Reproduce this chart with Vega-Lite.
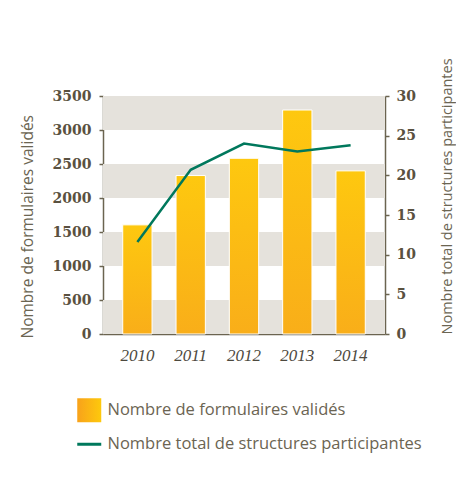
{
  "$schema": "https://vega.github.io/schema/vega-lite/v6.json",
  "width": 282,
  "height": 238,
  "autosize": "none",
  "padding": {"left": 103, "top": 96, "right": 71, "bottom": 153},
  "background": "#ffffff",
  "config": {
    "view": {"stroke": null},
    "axis": {"grid": false}
  },
  "datasets": {
    "bands": [
      {"lo": 0, "hi": 500},
      {"lo": 1000, "hi": 1500},
      {"lo": 2000, "hi": 2500},
      {"lo": 3000, "hi": 3500}
    ],
    "main": [
      {"annee": "2010", "formulaires": 1605, "structures": 11.6},
      {"annee": "2011", "formulaires": 2330, "structures": 20.7},
      {"annee": "2012", "formulaires": 2584, "structures": 24.0},
      {"annee": "2013", "formulaires": 3294, "structures": 23.0},
      {"annee": "2014", "formulaires": 2399, "structures": 23.8}
    ]
  },
  "layer": [
    {
      "layer": [
        {
          "data": {"name": "bands"},
          "mark": {"type": "rect", "color": "#e5e2dc"},
          "encoding": {
            "y": {
              "field": "lo", "type": "quantitative",
              "scale": {"domain": [0, 3500], "nice": false},
              "axis": {
                "orient": "left",
                "title": "Nombre de formulaires validés",
                "values": [0, 500, 1000, 1500, 2000, 2500, 3000, 3500],
                "format": "d",
                "labelFont": "DejaVu Serif", "labelFontWeight": "bold", "labelFontSize": 14,
                "labelColor": "#5a5140",
                "domainColor": "#6b6450", "domainWidth": 1.5,
                "tickColor": "#6b6450", "tickSize": 4, "tickWidth": 1.5,
                "labelPadding": 8,
                "titleFont": "Open Sans", "titleFontSize": 15.5, "titleFontWeight": "normal",
                "titleColor": "#6b6552",
                "titleAngle": 270, "titleAlign": "left", "titleBaseline": "middle",
                "titleX": -76, "titleY": 242
              }
            },
            "y2": {"field": "hi"},
            "x": {"value": 0},
            "x2": {"value": "width"}
          }
        },
        {
          "data": {"name": "main"},
          "mark": {
            "type": "bar",
            "color": {
              "gradient": "linear", "x1": 0, "y1": 0, "x2": 0, "y2": 1,
              "stops": [
                {"offset": 0, "color": "#fec80f"},
                {"offset": 1, "color": "#f9ae19"}
              ]
            },
            "stroke": "#ffffff", "strokeWidth": 1
          },
          "encoding": {
            "x": {
              "field": "annee", "type": "nominal",
              "scale": {"paddingInner": 0.45, "paddingOuter": 0.37},
              "axis": {
                "title": null, "labelAngle": 0, "ticks": false,
                "domainColor": "#6b6450", "domainWidth": 1.5,
                "labelFont": "Liberation Serif", "labelFontStyle": "italic", "labelFontSize": 17,
                "labelColor": "#4d493e", "labelPadding": 13
              }
            },
            "y": {
              "field": "formulaires", "type": "quantitative",
              "axis": {
                "orient": "left",
                "title": "Nombre de formulaires validés",
                "values": [0, 500, 1000, 1500, 2000, 2500, 3000, 3500],
                "format": "d",
                "labelFont": "DejaVu Serif", "labelFontWeight": "bold", "labelFontSize": 14,
                "labelColor": "#5a5140",
                "domainColor": "#6b6450", "domainWidth": 1.5,
                "tickColor": "#6b6450", "tickSize": 4, "tickWidth": 1.5,
                "labelPadding": 8,
                "titleFont": "Open Sans", "titleFontSize": 15.5, "titleFontWeight": "normal",
                "titleColor": "#6b6552",
                "titleAngle": 270, "titleAlign": "left", "titleBaseline": "middle",
                "titleX": -76, "titleY": 242
              }
            }
          }
        }
      ]
    },
    {
      "data": {"name": "main"},
      "mark": {"type": "line", "strokeWidth": 2.5},
      "encoding": {
        "x": {"field": "annee", "type": "nominal"},
        "y": {
          "field": "structures", "type": "quantitative",
          "scale": {"domain": [0, 30], "nice": false},
          "axis": {
            "orient": "right",
            "title": "Nombre total de structures participantes",
            "values": [0, 5, 10, 15, 20, 25, 30],
            "labelFont": "DejaVu Serif", "labelFontWeight": "bold", "labelFontSize": 14,
            "labelColor": "#5a5140",
            "domainColor": "#6b6450", "domainWidth": 1.5,
            "tickColor": "#6b6450", "tickSize": 4, "tickWidth": 1.5,
            "labelPadding": 7,
            "titleFont": "Open Sans", "titleFontSize": 14.5, "titleFontWeight": "normal",
            "titleColor": "#6b6552",
            "titleAngle": 270, "titleAlign": "left", "titleBaseline": "middle",
            "titleX": 62, "titleY": 238
          }
        },
        "color": {
          "datum": "Nombre total de structures participantes",
          "type": "nominal",
          "scale": {
            "domain": ["Nombre de formulaires validés", "Nombre total de structures participantes"],
            "range": ["#fbb516", "#00785c"]
          },
          "legend": {
            "orient": "none", "legendX": -22, "legendY": 306,
            "direction": "vertical", "title": null,
            "symbolSize": 576, "symbolStrokeWidth": 3,
            "labelFont": "Open Sans", "labelFontSize": 16.5, "labelColor": "#6b6452",
            "labelLimit": 400,
            "labelOffset": 10, "rowPadding": 13,
            "encode": {
              "symbols": {
                "update": {
                  "shape": {"signal": "datum.value === 'Nombre de formulaires validés' ? 'square' : 'stroke'"},
                  "fill": {"signal": "datum.value === 'Nombre de formulaires validés' ? {gradient: 'linear', x1: 0, y1: 0, x2: 1, y2: 0, stops: [{offset: 0, color: '#f8a21b'}, {offset: 1, color: '#fec90c'}]} : 'transparent'"},
                  "stroke": {"signal": "datum.value === 'Nombre de formulaires validés' ? 'transparent' : '#00785c'"},
                  "strokeWidth": {"signal": "datum.value === 'Nombre de formulaires validés' ? 0 : 3"},
                  "opacity": {"value": 1}
                }
              }
            }
          }
        }
      }
    }
  ],
  "resolve": {"scale": {"y": "independent"}}
}
